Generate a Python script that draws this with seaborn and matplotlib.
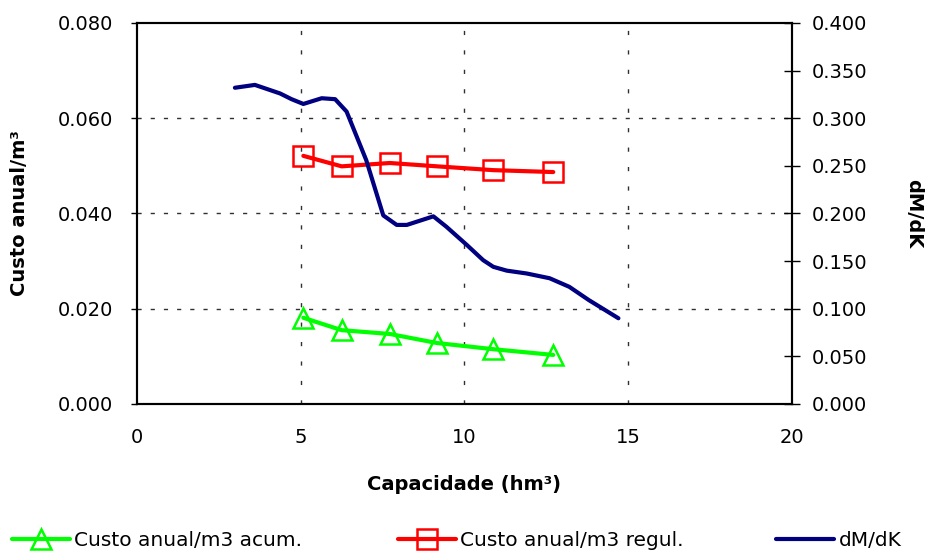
import matplotlib
matplotlib.use("Agg")
import matplotlib.pyplot as plt
import seaborn as sns
import pandas as pd
from matplotlib.lines import Line2D

sns.set_style("white")
plt.rcParams['font.family'] = ['DejaVu Sans']
plt.rcParams['text.color'] = 'black'
plt.rcParams['axes.labelcolor'] = 'black'
plt.rcParams['xtick.color'] = 'black'
plt.rcParams['ytick.color'] = 'black'

# Data
cap_custo = [5.08, 6.25, 7.72, 9.16, 10.88, 12.71]
custo_acum = [0.0181, 0.0155, 0.0147, 0.0128, 0.0115, 0.0103]
custo_regul = [0.0521, 0.0499, 0.0506, 0.0499, 0.0491, 0.0487]

cap_dmdk = [2.99, 3.6, 4.37, 4.72, 5.08, 5.64, 6.05, 6.4, 7.0, 7.52, 7.93, 8.24,
            9.05, 9.45, 10.07, 10.57, 10.88, 11.29, 11.9, 12.6, 13.2, 13.8, 14.7]
dmdk = [0.332, 0.335, 0.326, 0.320, 0.315, 0.321, 0.320, 0.307, 0.256, 0.198, 0.188, 0.188,
        0.197, 0.186, 0.167, 0.151, 0.144, 0.140, 0.137, 0.132, 0.123, 0.109, 0.090]

labels = ["Custo anual/m3 acum.", "Custo anual/m3 regul.", "dM/dK"]
x_ticks = [0, 5, 10, 15, 20]
left_ticks = [0.0, 0.02, 0.04, 0.06, 0.08]
right_ticks = [0.0, 0.05, 0.10, 0.15, 0.20, 0.25, 0.30, 0.35, 0.40]

df_c = pd.DataFrame({"cap": cap_custo, "acum": custo_acum, "regul": custo_regul})
df_d = pd.DataFrame({"cap": cap_dmdk, "dmdk": dmdk})

fig = plt.figure(figsize=(9.3, 5.54), dpi=100)
ax = fig.add_axes([0.1473, 0.2708, 0.7043, 0.6877])
ax2 = ax.twinx()

green = "#00FF00"
red = "#FF0000"
navy = "#000080"

sns.lineplot(data=df_c, x="cap", y="acum", ax=ax, color=green, lw=3,
             marker="^", markersize=15, markerfacecolor="none",
             markeredgecolor=green, markeredgewidth=1.8, zorder=4)
sns.lineplot(data=df_c, x="cap", y="regul", ax=ax, color=red, lw=3,
             marker="s", markersize=14, markerfacecolor="none",
             markeredgecolor=red, markeredgewidth=1.8, zorder=4)
sns.lineplot(data=df_d, x="cap", y="dmdk", ax=ax2, color=navy, lw=3, zorder=4)

ax.set_xlim(0, 20)
ax.set_ylim(0, 0.08)
ax2.set_ylim(0, 0.4)
ax.set_xticks(x_ticks)
ax.set_xticklabels([str(t) for t in x_ticks])
ax.set_yticks(left_ticks)
ax.set_yticklabels([f"{t:.3f}" for t in left_ticks])
ax2.set_yticks(right_ticks)
ax2.set_yticklabels([f"{t:.3f}" for t in right_ticks])

# grid
for yv in [0.02, 0.04, 0.06]:
    ax.axhline(yv, color="#303030", lw=1, ls=(0, (3, 6.5)), zorder=1)
for xv in [5, 10, 15]:
    ax.axvline(xv, color="#303030", lw=1, ls=(0, (3, 11)), zorder=1)

for a in (ax, ax2):
    for s in a.spines.values():
        s.set_color("black")
        s.set_linewidth(1.5)

ax.tick_params(axis="x", direction="inout", length=10, width=1, labelsize=14, pad=12)
ax.tick_params(axis="y", direction="out", length=4.5, width=1, labelsize=14, pad=13)
ax2.tick_params(axis="y", direction="inout", length=12, width=1, labelsize=14, pad=8.5)

ax.set_xlabel("Capacidade (hm³)", fontsize=14, fontweight="bold")
ax.xaxis.set_label_coords(0.5, -0.186)
ax.set_ylabel("Custo anual/m³", fontsize=14, fontweight="bold", va="center")
ax.yaxis.set_label_coords(-0.179, 0.5)
ax2.set_ylabel("dM/dK", fontsize=14, fontweight="bold", rotation=270, va="center")
ax2.yaxis.set_label_coords(1.185, 0.5)

handles = [
    Line2D([], [], color=green, lw=3, marker="^", markersize=15,
           markerfacecolor="none", markeredgecolor=green, markeredgewidth=1.8),
    Line2D([], [], color=red, lw=3, marker="s", markersize=14,
           markerfacecolor="none", markeredgecolor=red, markeredgewidth=1.8),
    Line2D([], [], color=navy, lw=3),
]
leg_x = [12 / 930, 398 / 930, 776 / 930]
for h, lab, lx in zip(handles, labels, leg_x):
    fig.legend([h], [lab], loc="center left", bbox_to_anchor=(lx, 0.024),
               frameon=False, fontsize=14.5, handlelength=2.9,
               handletextpad=0.2, borderpad=0, borderaxespad=0)

fig.savefig("out.png", dpi=100)
